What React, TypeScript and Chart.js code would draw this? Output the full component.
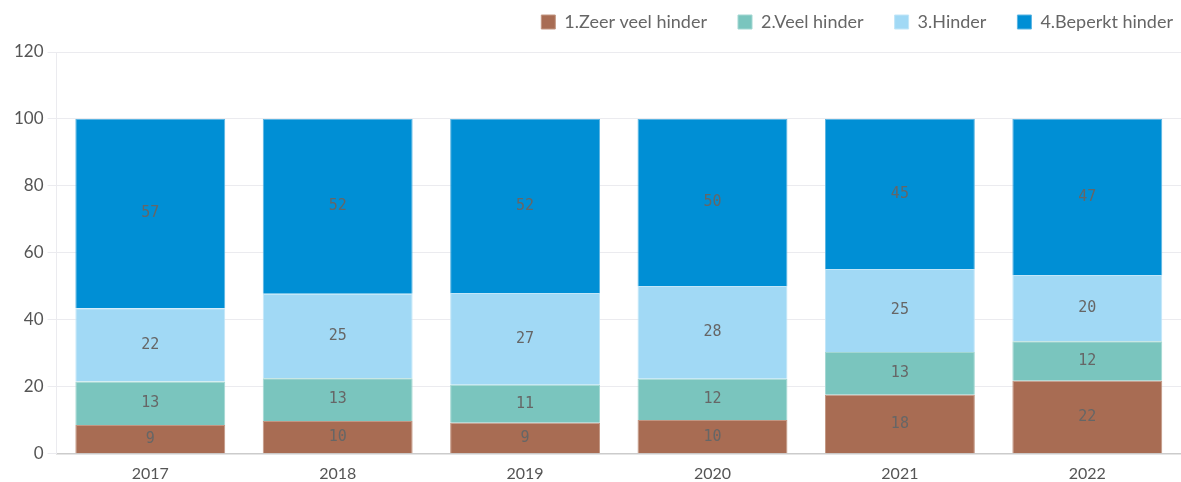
import React, { useEffect, useRef } from "react";
import { Chart, registerables } from "chart.js";

Chart.register(...registerables);

const categories = ["2017", "2018", "2019", "2020", "2021", "2022"];
const seriesNames = ["1.Zeer veel hinder", "2.Veel hinder", "3.Hinder", "4.Beperkt hinder"];
const zeerVeelHinder = [8.6, 9.8, 9.3, 10.1, 17.6, 21.8];
const veelHinder = [13.0, 12.8, 11.3, 12.3, 12.8, 11.8];
const hinder = [21.9, 25.2, 27.4, 27.7, 24.8, 19.8];
const beperktHinder = [56.5, 52.2, 52.0, 49.9, 44.8, 46.6];
const yTicks = [0, 20, 40, 60, 80, 100, 120];

const colors = ["#A86C53", "#7AC5BE", "#A1D9F5", "#008FD5"];
const borders = ["#C29682", "#A3D7D2", "#C2E6F8", "#5BB5E3"];

const labelPlugin = {
  id: "segLabels",
  afterDatasetsDraw(chart: any) {
    const ctx = chart.ctx;
    ctx.save();
    ctx.font = '15px "DejaVu Sans Mono", monospace';
    ctx.fillStyle = "#666666";
    ctx.textAlign = "center";
    ctx.textBaseline = "middle";
    chart.data.datasets.forEach((ds: any, i: number) => {
      const meta = chart.getDatasetMeta(i);
      meta.data.forEach((el: any, j: number) => {
        const p = el.getProps(["x", "y", "base"], true);
        const v = ds.data[j];
        ctx.fillText(String(Math.round(v)), p.x, (p.y + p.base) / 2);
      });
    });
    ctx.restore();
  },
};

const legendShift = {
  id: "legendShift",
  afterLayout(chart: any) {
    const lg = chart.legend;
    if (!lg) return;
    const dx = 23;
    const dy = -11;
    lg.left += dx;
    lg.right += dx;
    lg.top += dy;
    lg.bottom += dy;
  },
};

export default function App() {
  const ref = useRef<HTMLCanvasElement | null>(null);
  useEffect(() => {
    if (!ref.current) return;
    const data = [zeerVeelHinder, veelHinder, hinder, beperktHinder];
    const chart = new Chart(ref.current, {
      type: "bar",
      data: {
        labels: categories,
        datasets: seriesNames.map((name, i) => ({
          label: name,
          data: data[i],
          backgroundColor: colors[i],
          borderColor: borders[i],
          borderWidth: 1,
          categoryPercentage: 0.8,
          barPercentage: 1,
        })),
      },
      options: {
        animation: false,
        responsive: true,
        maintainAspectRatio: false,
        layout: { padding: { top: -7, right: 0, left: 10, bottom: -11 } },
        plugins: {
          tooltip: { enabled: false },
          legend: {
            position: "top",
            align: "end",
            labels: {
              boxWidth: 14,
              boxHeight: 14,
              padding: 31,
              color: "#666666",
              font: { family: "Lato", size: 18 },
            },
          },
        },
        scales: {
          x: {
            stacked: true,
            grid: { display: false, drawTicks: false },
            border: { color: "#CCCCCC", width: 1.5 },
            ticks: { color: "#555555", font: { family: "Lato", size: 16 }, padding: 10 },
          },
          y: {
            stacked: true,
            min: 0,
            max: 120,
            afterBuildTicks: (axis: any) => {
              axis.ticks = yTicks.map((v) => ({ value: v }));
            },
            grid: { color: "#EBEBEF", tickLength: 9 },
            border: { color: "#EBEBEF" },
            ticks: { color: "#555555", font: { family: "Lato", size: 17 }, padding: 4 },
          },
        },
      },
      plugins: [labelPlugin, legendShift],
    });
    return () => chart.destroy();
  }, []);
  return (
    <div style={{ position: "absolute", left: 0, top: 0, width: 1181, height: 482 }}>
      <canvas ref={ref} />
    </div>
  );
}
